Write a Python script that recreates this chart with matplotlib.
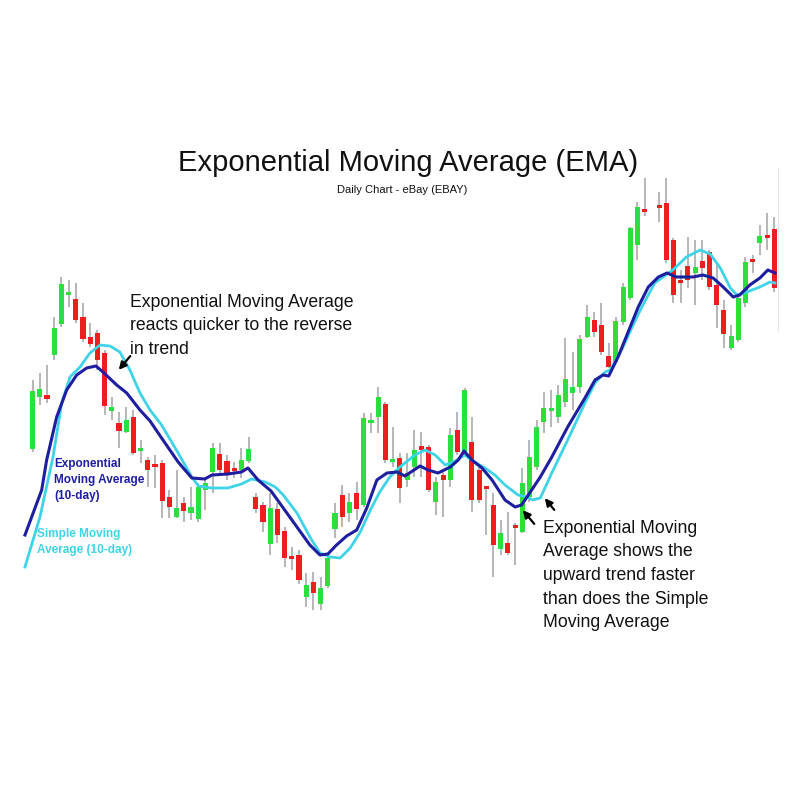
import numpy as np
import matplotlib
matplotlib.use('Agg')
import matplotlib.pyplot as plt
from matplotlib.lines import Line2D

plt.rcParams['font.family'] = ['Liberation Sans', 'DejaVu Sans']

nan = np.nan

# daily candles (price units), index 0..103
opens = [17.1, 22.3, 22.5, 26.5, 29.6, 32.5, 32.1, 30.3, 28.3, 28.7,
         26.7, 20.9, 19.7, 18.8, 20.3, 16.9, 16.0, 15.5, 15.7, 12.3,
         10.3, 11.7, 10.7, 10.1, 13.0, 14.8, 16.6, 15.9, 15.1, 15.0,
         15.9, 12.3, 11.5, 7.6, 11.1, 8.9, 6.3, 6.5, 2.3, 3.8,
         1.6, 3.4, 9.1, 12.5, 10.7, 12.7, 11.5, 19.7, 20.3, 21.6,
         15.8, 16.2, 14.0, 15.3, 17.4, 17.3, 11.8, 14.5, 14.0, 19.0,
         16.7, 17.8, 15.0, 13.3, 11.5, 7.1, 7.7, 9.4, 8.8, 12.3,
         15.3, 19.8, 20.9, 20.3, 21.8, 22.7, 23.3, 28.3, 30.0, 29.5,
         26.4, 25.8, 29.8, 32.2, 37.5, 41.1, nan, 41.4, 41.7, 38.0,
         33.9, 35.4, 34.7, 35.9, 36.8, 33.5, 31.0, 27.2, 28.0, 31.7,
         36.1, 37.7, 38.4, 39.1]
closes = [22.9, 23.1, 22.1, 29.2, 33.6, 32.8, 30.0, 28.1, 27.6, 26.0,
          21.4, 21.3, 18.9, 20.0, 16.7, 17.1, 15.0, 15.3, 11.9, 11.3,
          11.2, 10.9, 11.3, 13.3, 13.7, 17.2, 15.0, 14.5, 14.9, 16.0,
          17.1, 11.1, 9.8, 11.2, 8.5, 6.2, 6.1, 4.0, 3.5, 2.7,
          3.2, 6.2, 10.7, 10.3, 11.8, 11.1, 20.2, 19.9, 22.3, 16.0,
          16.0, 13.2, 14.7, 17.0, 17.0, 13.0, 13.8, 14.0, 18.5, 16.8,
          23.0, 12.0, 12.0, 13.1, 7.5, 8.7, 6.7, 9.2, 13.7, 16.3,
          19.3, 21.2, 21.2, 22.5, 24.1, 23.3, 28.1, 30.3, 28.8, 26.8,
          25.3, 29.9, 33.3, 39.2, 41.3, 40.8, nan, 41.2, 36.0, 32.5,
          33.7, 34.0, 35.3, 35.2, 33.3, 31.5, 28.6, 28.4, 32.2, 35.8,
          35.8, 38.4, 38.2, 33.2]
highs = [24.0, 24.7, 25.5, 30.3, 34.3, 34.0, 33.7, 31.7, 29.7, 29.0,
         27.0, 22.3, 20.8, 21.3, 21.0, 18.0, 16.3, 16.5, 16.0, 13.0,
         15.0, 12.3, 13.3, 13.7, 14.3, 17.7, 17.7, 16.5, 15.8, 17.2,
         18.3, 12.7, 11.8, 12.7, 11.7, 9.3, 7.3, 7.0, 4.7, 4.8,
         4.3, 6.5, 11.7, 13.5, 12.7, 13.8, 20.7, 20.7, 23.3, 21.8,
         19.3, 16.7, 16.7, 19.0, 18.8, 17.5, 14.3, 15.0, 19.2, 20.8,
         23.2, 20.3, 15.3, 13.4, 12.7, 10.0, 10.8, 9.7, 15.2, 18.0,
         20.0, 22.8, 23.0, 23.5, 28.2, 26.8, 28.5, 31.5, 30.8, 31.7,
         27.7, 30.3, 33.7, 39.3, 41.8, 44.2, nan, 42.8, 44.2, 38.2,
         35.0, 38.3, 38.0, 38.0, 37.0, 35.8, 32.0, 29.5, 32.7, 36.3,
         36.5, 39.5, 40.7, 40.3]
lows = [16.8, 21.5, 21.7, 26.0, 29.3, 31.3, 29.7, 27.8, 27.3, 25.0,
        20.5, 20.0, 17.2, 18.7, 16.5, 15.7, 13.3, 13.2, 10.2, 10.2,
        10.2, 9.8, 10.0, 9.8, 11.0, 12.7, 14.5, 14.0, 14.2, 14.2,
        15.7, 10.7, 8.8, 6.5, 7.7, 5.3, 5.0, 3.6, 1.3, 1.0,
        1.0, 3.2, 8.2, 9.3, 9.8, 10.0, 11.3, 18.7, 18.7, 15.7,
        15.3, 11.7, 13.3, 14.3, 14.3, 12.8, 10.5, 10.3, 13.3, 16.5,
        16.5, 10.8, 11.7, 8.5, 4.3, 6.5, 6.5, 5.5, 8.7, 11.8,
        15.0, 18.7, 19.3, 19.7, 21.3, 21.0, 22.7, 28.2, 28.3, 26.5,
        25.2, 25.7, 29.5, 32.0, 36.0, 40.4, nan, 39.8, 35.7, 31.7,
        31.7, 33.2, 31.5, 34.0, 33.0, 29.2, 27.2, 27.0, 27.8, 31.3,
        34.7, 36.5, 37.0, 32.8]

# moving average lines, read as (day index, value) vertices
ema_x = [-1.07, 1.25, 1.94, 3.33, 4.72, 6.11, 7.5, 8.79, 9.76, 11.67,
         13.06, 14.9, 16.3, 17.9, 20.2, 22.1, 23.9, 24.9, 27.1, 29.0,
         29.9, 31.3, 33.1, 34.8, 36.7, 38.5, 39.9, 41.0, 42.2, 43.6,
         45.0, 46.4, 47.8, 49.2, 50.6, 51.7, 53.8, 54.9, 56.3, 58.0,
         59.1, 59.9, 61.0, 62.4, 63.8, 65.6, 67.0, 67.9, 69.3, 70.5,
         72.1, 74.3, 76.7, 78.1, 79.2, 80.0, 81.3, 82.7, 84.1, 85.5,
         86.9, 88.1, 89.4, 91.7, 93.1, 94.5, 95.9, 97.3, 98.2, 99.6,
         101.0, 102.1, 103.1]
ema_y = [8.5, 13.0, 16.0, 20.3, 23.0, 24.5, 25.2, 25.4, 24.8, 23.5,
         22.7, 21.0, 19.9, 18.2, 15.8, 14.2, 14.1, 14.5, 14.6, 14.8,
         15.2, 14.0, 12.9, 11.2, 9.3, 7.5, 6.5, 6.6, 7.5, 8.4,
         9.0, 11.2, 14.0, 14.7, 14.8, 14.4, 15.4, 15.0, 14.7, 15.3,
         16.0, 16.9, 16.0, 15.2, 14.0, 12.0, 11.3, 11.5, 13.0, 14.3,
         16.3, 19.3, 22.2, 24.0, 24.5, 24.4, 26.3, 28.8, 31.3, 33.3,
         34.3, 34.7, 34.3, 34.3, 34.5, 34.2, 33.3, 32.3, 32.5, 33.5,
         34.2, 35.0, 34.7]
sma_x = [-1.07, 1.01, 2.82, 4.03, 5.18, 6.57, 7.96, 9.35, 10.74, 12.1,
         13.5, 14.9, 16.3, 17.9, 20.2, 22.1, 23.0, 24.9, 27.1, 29.0,
         30.4, 32.3, 33.7, 34.8, 36.7, 38.5, 39.9, 41.3, 42.7, 44.1,
         45.5, 46.9, 48.2, 49.6, 51.0, 53.1, 54.5, 55.9, 57.3, 58.7,
         60.0, 61.4, 62.8, 64.2, 65.6, 67.4, 68.7, 69.4, 70.5, 72.1,
         74.3, 76.7, 78.1, 79.5, 80.2, 81.8, 83.2, 84.6, 86.4, 88.9,
         90.8, 92.7, 94.1, 95.5, 96.9, 97.8, 99.2, 101.0, 102.4, 103.1]
sma_y = [5.3, 10.3, 16.3, 21.7, 24.3, 25.3, 26.7, 27.5, 27.4, 26.8,
         25.0, 22.7, 21.0, 19.5, 16.7, 14.3, 13.4, 13.2, 13.2, 13.6,
         14.1, 13.8, 13.3, 12.5, 10.7, 8.3, 6.7, 6.3, 6.2, 7.2,
         8.8, 11.0, 12.8, 14.3, 15.3, 16.5, 17.0, 16.5, 15.5, 15.9,
         16.5, 15.8, 15.2, 14.5, 13.5, 12.5, 12.3, 12.0, 12.2, 14.7,
         18.0, 21.7, 23.7, 24.8, 25.0, 27.0, 29.2, 31.3, 33.7, 35.0,
         36.3, 37.0, 36.6, 35.2, 33.2, 32.5, 32.8, 33.3, 33.8, 33.7]

GREEN = '#2be03c'
RED = '#ee1e1e'
WICK = '#a3a3a3'
EMA_C = '#1e1ea0'
SMA_C = '#3ed3e6'


def px(x, y):
    # pixel position -> figure fraction
    return x / 800, 1 - y / 800


def candles(ax):
    o = np.array(opens)
    c = np.array(closes)
    h = np.array(highs)
    l = np.array(lows)
    idx = np.arange(len(o))
    ok = ~np.isnan(o)
    ax.vlines(idx[ok], l[ok], h[ok], color=WICK, linewidth=1.1, zorder=1)
    up = c >= o
    bottom = np.minimum(o, c)
    height = np.maximum(np.abs(c - o), 0.3)
    cols = [GREEN if u else RED for u in up]
    ax.bar(idx[ok], height[ok], bottom=bottom[ok], width=0.72,
           color=np.array(cols)[ok], linewidth=0, zorder=2)


fig = plt.figure(figsize=(8, 8), dpi=100)
ax = fig.add_axes([0, 0, 1, 1])
ax.axis('off')
ax.set_xlim(-4.54, 106.57)
ax.set_ylim(-18, 62)

candles(ax)
ax.plot(sma_x, sma_y, color=SMA_C, linewidth=2.0, zorder=3)
ax.plot(ema_x, ema_y, color=EMA_C, linewidth=2.2, zorder=4)

# faint chart edge on the right
fig.add_artist(Line2D([778 / 800, 778 / 800], [1 - 168 / 800, 1 - 330 / 800],
                      color='#e4e4e4', linewidth=0.8))

fig.text(*px(408, 163), 'Exponential Moving Average (EMA)', fontsize=21,
         ha='center', va='center', color='#111111')
fig.text(*px(402, 190), 'Daily Chart - eBay (EBAY)', fontsize=8,
         ha='center', va='center', color='#111111')

fig.text(*px(130, 294), 'Exponential Moving Average\nreacts quicker to the reverse\nin trend',
         fontsize=12.7, ha='left', va='top', linespacing=1.5, color='#111111')
fig.text(*px(543, 520), 'Exponential Moving\nAverage shows the\nupward trend faster\n'
         'than does the Simple\nMoving Average',
         fontsize=12.7, ha='left', va='top', linespacing=1.5, color='#111111')

fig.text(*px(54, 458), 'Exponential\nMoving Average\n(10-day)', fontsize=8.5,
         fontweight='bold', ha='left', va='top', linespacing=1.45, color=EMA_C)
fig.text(*px(37, 528), 'Simple Moving\nAverage (10-day)', fontsize=8.5,
         fontweight='bold', ha='left', va='top', linespacing=1.45, color=SMA_C)

arrow = dict(arrowstyle='-|>', color='black', lw=1.6, mutation_scale=11)
for head, tail in [((117, 372), (132, 354)),
                   ((521, 508), (536, 526)),
                   ((543, 496), (556, 512))]:
    fig.add_artist(plt.matplotlib.patches.FancyArrowPatch(
        px(*tail), px(*head), transform=fig.transFigure, **arrow))

fig.savefig('out.png', dpi=100, facecolor='white')
